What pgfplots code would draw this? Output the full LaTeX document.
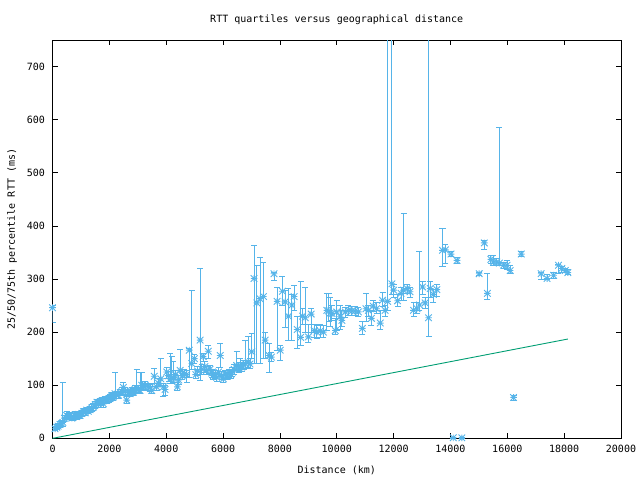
\documentclass[border=0pt]{standalone}
\usepackage{fontspec}
\setmainfont{DejaVu Sans Mono}
\usepackage{pgfplots}
\usepackage{pgfplotstable}
\pgfplotsset{compat=1.18}
\definecolor{gpblue}{RGB}{86,180,233}
\definecolor{gpgreen}{RGB}{0,158,115}
\pgfdeclareplotmark{gpstar}{%
 \pgfpathmoveto{\pgfqpoint{-\pgfplotmarksize}{0pt}}\pgfpathlineto{\pgfqpoint{\pgfplotmarksize}{0pt}}%
 \pgfpathmoveto{\pgfqpoint{0pt}{-\pgfplotmarksize}}\pgfpathlineto{\pgfqpoint{0pt}{\pgfplotmarksize}}%
 \pgfpathmoveto{\pgfqpoint{-\pgfplotmarksize}{-\pgfplotmarksize}}\pgfpathlineto{\pgfqpoint{\pgfplotmarksize}{\pgfplotmarksize}}%
 \pgfpathmoveto{\pgfqpoint{-\pgfplotmarksize}{\pgfplotmarksize}}\pgfpathlineto{\pgfqpoint{\pgfplotmarksize}{-\pgfplotmarksize}}%
 \pgfusepathqstroke}
\pgfplotstableread{
x y lo hi
0 246 219 250
90 18 14 22
150 21 16 26
200 23 18 28
260 26 21 31
320 28 23 34
363 30 22 106
420 38 32 44
500 43 36 50
560 40 35 47
620 43 36 48
680 38 33 44
730 40 34 46
790 44 38 50
850 41 36 48
910 45 40 51
970 43 38 49
1030 47 41 53
1090 50 44 56
1150 48 43 54
1200 53 47 58
1260 51 46 57
1320 54 48 60
1380 57 51 63
1440 59 53 65
1500 63 57 69
1560 68 61 74
1620 64 58 71
1670 68 62 75
1730 70 64 77
1790 65 59 71
1850 72 66 79
1910 72 66 78
1970 74 68 81
2020 75 69 82
2080 80 73 86
2140 78 72 85
2200 84 76 125
2260 82 76 89
2320 81 75 88
2380 86 80 93
2440 88 81 95
2490 96 86 106
2550 89 82 96
2610 72 66 79
2670 86 80 92
2730 84 78 91
2790 88 82 95
2840 87 81 94
2900 92 86 99
2960 94 87 130
3020 92 85 99
3080 90 84 125
3140 100 93 125
3200 97 90 104
3260 100 93 108
3370 97 91 104
3430 95 88 102
3490 90 84 97
3580 117 104 131
3660 97 90 104
3720 104 97 112
3810 112 100 150
3900 97 78 104
3960 92 80 100
4020 125 112 134
4080 118 108 126
4140 112 104 160
4200 113 104 155
4250 114 106 145
4310 120 110 128
4390 97 90 106
4440 110 102 118
4490 128 118 168
4560 118 110 126
4640 122 114 130
4720 120 106 127
4810 166 115 170
4900 141 130 279
4990 150 141 158
5040 120 112 130
5100 127 118 136
5190 185 109 320
5250 130 120 140
5300 154 145 160
5360 135 125 145
5420 128 120 135
5480 164 150 175
5540 130 122 138
5600 123 115 130
5660 118 110 125
5720 120 112 127
5780 115 108 122
5840 125 117 133
5900 156 134 179
5960 118 110 126
6010 112 105 120
6080 120 113 128
6150 117 110 125
6210 122 115 130
6270 120 112 128
6330 125 117 134
6390 130 120 140
6480 137 128 163
6550 133 125 142
6600 135 126 150
6660 134 126 142
6720 138 130 146
6780 141 132 185
6880 144 134 191
6950 140 132 150
7010 163 150 198
7090 301 141 364
7190 255 141 326
7300 263 141 340
7420 267 150 331
7480 185 150 200
7620 156 125 178
7700 153 145 162
7790 310 298 313
7900 258 166 284
8010 166 147 175
8090 277 250 304
8180 257 208 279
8300 230 185 282
8420 251 185 270
8500 267 240 288
8610 205 169 230
8730 190 175 295
8800 230 215 245
8890 227 200 284
9000 191 180 215
9100 234 200 244
9210 203 190 215
9300 200 188 212
9420 202 190 215
9530 200 190 212
9650 241 203 273
9710 240 220 273
9770 236 210 265
9830 235 222 250
9950 203 195 225
10000 238 203 260
10120 229 205 250
10180 222 210 240
10300 238 228 246
10410 241 232 250
10530 240 232 248
10650 240 232 248
10760 238 230 246
10900 207 195 220
11030 244 220 273
11110 241 230 250
11220 226 212 240
11280 249 238 260
11400 244 235 255
11530 217 205 241
11610 260 248 275
11700 241 230 250
11790 258 240 900
11940 291 270 900
12000 279 265 290
12140 259 248 270
12260 273 260 285
12350 279 260 423
12470 282 272 290
12580 276 265 285
12700 241 230 255
12820 244 235 255
12910 251 240 351
13020 285 270 295
13110 255 245 265
13230 227 191 900
13290 282 265 296
13400 271 255 280
13520 280 268 290
13720 354 323 395
13820 355 330 365
14020 347 342 352
14100 1 0 2
14230 335 330 340
14400 1 0 2
15010 310 307 313
15190 368 355 372
15300 273 262 310
15420 337 330 345
15510 332 325 345
15630 332 326 338
15720 330 325 585
15870 326 320 332
15990 326 318 335
16100 316 310 325
16220 77 72 80
16490 347 343 351
17190 310 300 313
17400 301 300 308
17630 307 302 312
17800 326 310 328
17920 320 312 324
18040 316 312 320
18130 312 308 318
}\rtt
\begin{document}
\fontsize{10bp}{12bp}\selectfont
\begin{tikzpicture}
\begin{axis}[
  scale only axis, width=568bp, height=398bp,
  xmin=0, xmax=20000, ymin=0, ymax=750,
  xtick={0,2000,...,20000}, ytick={0,100,...,700},
  scaled ticks=false,
  /pgf/number format/1000 sep={},
  /pgf/number format/assume math mode=true,
  tick align=inside, major tick length=5bp,
  axis line style={line width=0.8bp},
  every tick/.style={black, line width=0.8bp},
  xticklabel style={yshift=-3bp},
  yticklabel style={xshift=-4bp},
]
\addplot[gpblue, line width=0.9bp, only marks, mark=gpstar, mark size=3.3bp,
  error bars/.cd, y dir=both, y explicit,
  error bar style={gpblue, line width=0.9bp},
  error mark options={gpblue, rotate=90, mark size=3bp, line width=0.9bp}]
  table[x=x, y=y, y error plus expr=\thisrow{hi}-\thisrow{y}, y error minus expr=\thisrow{y}-\thisrow{lo}] {\rtt};
\addplot[gpgreen, line width=0.9bp, no marks] coordinates {(0,0) (18130,187)};
\end{axis}
\node at ([yshift=20bp]current axis.north) {RTT quartiles versus geographical distance};
\node at ([yshift=-32bp]current axis.south) {Distance (km)};
\node[rotate=90] at ([xshift=-40.5bp]current axis.west) {25/50/75th percentile RTT (ms)};
\pgfresetboundingbox
\path[use as bounding box] ([shift={(-52.5bp,-42bp)}]current axis.south west) rectangle ([shift={(19bp,40bp)}]current axis.north east);
\end{tikzpicture}
\end{document}
